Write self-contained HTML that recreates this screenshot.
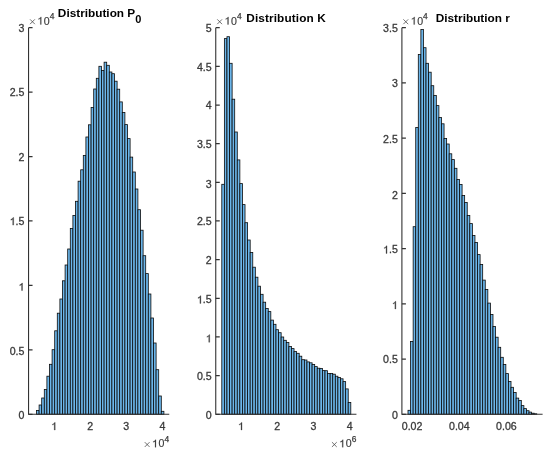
<!DOCTYPE html>
<html><head><meta charset="utf-8"><style>
html,body{margin:0;padding:0;background:#fff;}
svg{display:block;font-family:"Liberation Sans",sans-serif;filter:blur(0.35px);}
</style></head><body>
<svg width="550" height="458" viewBox="0 0 550 458">
<rect width="550" height="458" fill="#fff"/>
<g fill="#6cb6ea" stroke="#0a0a0a" stroke-width="0.8"><rect x="36.50" y="410.40" width="2.600" height="3.85"/><rect x="39.10" y="405.00" width="2.600" height="9.25"/><rect x="41.70" y="398.00" width="2.600" height="16.25"/><rect x="44.30" y="389.50" width="2.600" height="24.75"/><rect x="46.90" y="376.20" width="2.600" height="38.05"/><rect x="49.50" y="364.30" width="2.600" height="49.95"/><rect x="52.10" y="349.70" width="2.600" height="64.55"/><rect x="54.70" y="330.80" width="2.600" height="83.45"/><rect x="57.30" y="313.20" width="2.600" height="101.05"/><rect x="59.90" y="299.00" width="2.600" height="115.25"/><rect x="62.50" y="280.80" width="2.600" height="133.45"/><rect x="65.10" y="265.00" width="2.600" height="149.25"/><rect x="67.70" y="249.00" width="2.600" height="165.25"/><rect x="70.30" y="228.50" width="2.600" height="185.75"/><rect x="72.90" y="215.40" width="2.600" height="198.85"/><rect x="75.50" y="201.30" width="2.600" height="212.95"/><rect x="78.10" y="181.20" width="2.600" height="233.05"/><rect x="80.70" y="169.80" width="2.600" height="244.45"/><rect x="83.30" y="155.40" width="2.600" height="258.85"/><rect x="85.90" y="137.00" width="2.600" height="277.25"/><rect x="88.50" y="124.80" width="2.600" height="289.45"/><rect x="91.10" y="107.40" width="2.600" height="306.85"/><rect x="93.70" y="89.00" width="2.600" height="325.25"/><rect x="96.30" y="78.30" width="2.600" height="335.95"/><rect x="98.90" y="66.30" width="2.600" height="347.95"/><rect x="101.50" y="70.40" width="2.600" height="343.85"/><rect x="104.10" y="62.20" width="2.600" height="352.05"/><rect x="106.70" y="65.30" width="2.600" height="348.95"/><rect x="109.30" y="72.00" width="2.600" height="342.25"/><rect x="111.90" y="73.70" width="2.600" height="340.55"/><rect x="114.50" y="81.20" width="2.600" height="333.05"/><rect x="117.10" y="89.20" width="2.600" height="325.05"/><rect x="119.70" y="101.90" width="2.600" height="312.35"/><rect x="122.30" y="112.40" width="2.600" height="301.85"/><rect x="124.90" y="124.60" width="2.600" height="289.65"/><rect x="127.50" y="138.60" width="2.600" height="275.65"/><rect x="130.10" y="157.10" width="2.600" height="257.15"/><rect x="132.70" y="172.00" width="2.600" height="242.25"/><rect x="135.30" y="189.00" width="2.600" height="225.25"/><rect x="137.90" y="209.70" width="2.600" height="204.55"/><rect x="140.50" y="230.20" width="2.600" height="184.05"/><rect x="143.10" y="255.70" width="2.600" height="158.55"/><rect x="145.70" y="273.60" width="2.600" height="140.65"/><rect x="148.30" y="294.00" width="2.600" height="120.25"/><rect x="150.90" y="318.00" width="2.600" height="96.25"/><rect x="153.50" y="343.00" width="2.600" height="71.25"/><rect x="156.10" y="369.70" width="2.600" height="44.55"/><rect x="158.70" y="396.00" width="2.600" height="18.25"/><rect x="161.30" y="411.30" width="2.600" height="2.95"/></g>
<path d="M28.55,27.7 V414.25 H169.25" fill="none" stroke="#333333" stroke-width="1.1"/>
<path d="M28.55,414.25h4.0 M28.55,349.82h4.0 M28.55,285.40h4.0 M28.55,220.97h4.0 M28.55,156.55h4.0 M28.55,92.12h4.0 M28.55,27.70h4.0" stroke="#333" stroke-width="1.25"/>
<g font-size="10.6" fill="#3a3a3a" stroke="#3a3a3a" stroke-width="0.3"><text x="18.56" y="419.30">0</text></g><g font-size="10.6" fill="#3a3a3a" stroke="#3a3a3a" stroke-width="0.3"><text x="9.72" y="354.82">0.5</text></g><g font-size="10.6" fill="#3a3a3a" stroke="#3a3a3a" stroke-width="0.3"><path transform="translate(18.56,290.60) scale(10.6)" d="M0.372,0V-0.716H0.314C0.300,-0.670,0.262,-0.628,0.215,-0.595C0.175,-0.567,0.135,-0.550,0.110,-0.543V-0.468C0.160,-0.480,0.235,-0.512,0.283,-0.556V0Z" stroke-width="0.0283"/></g><g font-size="10.6" fill="#3a3a3a" stroke="#3a3a3a" stroke-width="0.3"><path transform="translate(9.72,225.12) scale(10.6)" d="M0.372,0V-0.716H0.314C0.300,-0.670,0.262,-0.628,0.215,-0.595C0.175,-0.567,0.135,-0.550,0.110,-0.543V-0.468C0.160,-0.480,0.235,-0.512,0.283,-0.556V0Z" stroke-width="0.0283"/><text x="15.61" y="225.12">.5</text></g><g font-size="10.6" fill="#3a3a3a" stroke="#3a3a3a" stroke-width="0.3"><text x="18.56" y="160.85">2</text></g><g font-size="10.6" fill="#3a3a3a" stroke="#3a3a3a" stroke-width="0.3"><text x="9.72" y="96.28">2.5</text></g><g font-size="10.6" fill="#3a3a3a" stroke="#3a3a3a" stroke-width="0.3"><text x="18.56" y="31.95">3</text></g><g font-size="10.6" fill="#3a3a3a" stroke="#3a3a3a" stroke-width="0.3"><path transform="translate(51.25,430.00) scale(10.6)" d="M0.372,0V-0.716H0.314C0.300,-0.670,0.262,-0.628,0.215,-0.595C0.175,-0.567,0.135,-0.550,0.110,-0.543V-0.468C0.160,-0.480,0.235,-0.512,0.283,-0.556V0Z" stroke-width="0.0283"/></g><g font-size="10.6" fill="#3a3a3a" stroke="#3a3a3a" stroke-width="0.3"><text x="87.25" y="430.00">2</text></g><g font-size="10.6" fill="#3a3a3a" stroke="#3a3a3a" stroke-width="0.3"><text x="123.25" y="430.00">3</text></g><g font-size="10.6" fill="#3a3a3a" stroke="#3a3a3a" stroke-width="0.3"><text x="159.45" y="430.00">4</text></g>
<path d="M30.05,19.35L34.85,24.15M34.85,19.35L30.05,24.15" stroke="#3a3a3a" stroke-width="0.9" fill="none" stroke-opacity="0.8"/><g font-size="10.6" fill="#3a3a3a" stroke="#3a3a3a" stroke-width="0.2"><path transform="translate(37.35,24.50) scale(10.6)" d="M0.372,0V-0.716H0.314C0.300,-0.670,0.262,-0.628,0.215,-0.595C0.175,-0.567,0.135,-0.550,0.110,-0.543V-0.468C0.160,-0.480,0.235,-0.512,0.283,-0.556V0Z" stroke-width="0.0189"/></g><g font-size="10.6" fill="#3a3a3a" stroke="#3a3a3a" stroke-width="0.15"><text x="43.85" y="24.50">0</text></g><text x="49.75" y="19.10" font-size="8.4" fill="#3a3a3a" stroke="#3a3a3a" stroke-width="0.25">4</text>
<path d="M144.75,442.15L149.55,446.95M149.55,442.15L144.75,446.95" stroke="#3a3a3a" stroke-width="0.9" fill="none" stroke-opacity="0.8"/><g font-size="10.6" fill="#3a3a3a" stroke="#3a3a3a" stroke-width="0.2"><path transform="translate(152.05,447.30) scale(10.6)" d="M0.372,0V-0.716H0.314C0.300,-0.670,0.262,-0.628,0.215,-0.595C0.175,-0.567,0.135,-0.550,0.110,-0.543V-0.468C0.160,-0.480,0.235,-0.512,0.283,-0.556V0Z" stroke-width="0.0189"/></g><g font-size="10.6" fill="#3a3a3a" stroke="#3a3a3a" stroke-width="0.15"><text x="158.55" y="447.30">0</text></g><text x="164.45" y="441.90" font-size="8.4" fill="#3a3a3a" stroke="#3a3a3a" stroke-width="0.25">4</text>
<text x="99.60" y="17.1" text-anchor="middle" font-size="11.8" font-weight="bold" fill="#000">Distribution P<tspan dy="5.8" font-size="11">0</tspan></text>
<g fill="#6cb6ea" stroke="#0a0a0a" stroke-width="0.8"><rect x="221.80" y="184.30" width="2.580" height="229.95"/><rect x="224.38" y="38.60" width="2.580" height="375.65"/><rect x="226.96" y="36.70" width="2.580" height="377.55"/><rect x="229.54" y="63.30" width="2.580" height="350.95"/><rect x="232.12" y="99.20" width="2.580" height="315.05"/><rect x="234.70" y="132.00" width="2.580" height="282.25"/><rect x="237.28" y="159.90" width="2.580" height="254.35"/><rect x="239.86" y="183.60" width="2.580" height="230.65"/><rect x="242.44" y="204.60" width="2.580" height="209.65"/><rect x="245.02" y="222.70" width="2.580" height="191.55"/><rect x="247.60" y="240.00" width="2.580" height="174.25"/><rect x="250.18" y="252.40" width="2.580" height="161.85"/><rect x="252.76" y="267.20" width="2.580" height="147.05"/><rect x="255.34" y="277.20" width="2.580" height="137.05"/><rect x="257.92" y="286.20" width="2.580" height="128.05"/><rect x="260.50" y="294.30" width="2.580" height="119.95"/><rect x="263.08" y="302.20" width="2.580" height="112.05"/><rect x="265.66" y="308.50" width="2.580" height="105.75"/><rect x="268.24" y="311.60" width="2.580" height="102.65"/><rect x="270.82" y="320.10" width="2.580" height="94.15"/><rect x="273.40" y="324.30" width="2.580" height="89.95"/><rect x="275.98" y="329.70" width="2.580" height="84.55"/><rect x="278.56" y="332.70" width="2.580" height="81.55"/><rect x="281.14" y="337.00" width="2.580" height="77.25"/><rect x="283.72" y="340.30" width="2.580" height="73.95"/><rect x="286.30" y="342.50" width="2.580" height="71.75"/><rect x="288.88" y="346.40" width="2.580" height="67.85"/><rect x="291.46" y="348.60" width="2.580" height="65.65"/><rect x="294.04" y="351.60" width="2.580" height="62.65"/><rect x="296.62" y="353.30" width="2.580" height="60.95"/><rect x="299.20" y="356.20" width="2.580" height="58.05"/><rect x="301.78" y="359.70" width="2.580" height="54.55"/><rect x="304.36" y="360.00" width="2.580" height="54.25"/><rect x="306.94" y="361.90" width="2.580" height="52.35"/><rect x="309.52" y="362.80" width="2.580" height="51.45"/><rect x="312.10" y="364.40" width="2.580" height="49.85"/><rect x="314.68" y="366.60" width="2.580" height="47.65"/><rect x="317.26" y="368.20" width="2.580" height="46.05"/><rect x="319.84" y="368.40" width="2.580" height="45.85"/><rect x="322.42" y="370.60" width="2.580" height="43.65"/><rect x="325.00" y="370.70" width="2.580" height="43.55"/><rect x="327.58" y="373.40" width="2.580" height="40.85"/><rect x="330.16" y="373.40" width="2.580" height="40.85"/><rect x="332.74" y="374.20" width="2.580" height="40.05"/><rect x="335.32" y="376.20" width="2.580" height="38.05"/><rect x="337.90" y="377.50" width="2.580" height="36.75"/><rect x="340.48" y="378.80" width="2.580" height="35.45"/><rect x="343.06" y="381.60" width="2.580" height="32.65"/><rect x="345.64" y="388.90" width="2.580" height="25.35"/><rect x="348.22" y="402.50" width="2.580" height="11.75"/></g>
<path d="M215.75,27.7 V414.25 H356.45" fill="none" stroke="#333333" stroke-width="1.1"/>
<path d="M215.75,414.25h4.0 M215.75,375.60h4.0 M215.75,336.94h4.0 M215.75,298.28h4.0 M215.75,259.63h4.0 M215.75,220.97h4.0 M215.75,182.32h4.0 M215.75,143.67h4.0 M215.75,105.01h4.0 M215.75,66.35h4.0 M215.75,27.70h4.0" stroke="#333" stroke-width="1.25"/>
<g font-size="10.6" fill="#3a3a3a" stroke="#3a3a3a" stroke-width="0.3"><text x="205.76" y="419.40">0</text></g><g font-size="10.6" fill="#3a3a3a" stroke="#3a3a3a" stroke-width="0.3"><text x="196.92" y="380.30">0.5</text></g><g font-size="10.6" fill="#3a3a3a" stroke="#3a3a3a" stroke-width="0.3"><path transform="translate(205.76,342.24) scale(10.6)" d="M0.372,0V-0.716H0.314C0.300,-0.670,0.262,-0.628,0.215,-0.595C0.175,-0.567,0.135,-0.550,0.110,-0.543V-0.468C0.160,-0.480,0.235,-0.512,0.283,-0.556V0Z" stroke-width="0.0283"/></g><g font-size="10.6" fill="#3a3a3a" stroke="#3a3a3a" stroke-width="0.3"><path transform="translate(196.92,303.38) scale(10.6)" d="M0.372,0V-0.716H0.314C0.300,-0.670,0.262,-0.628,0.215,-0.595C0.175,-0.567,0.135,-0.550,0.110,-0.543V-0.468C0.160,-0.480,0.235,-0.512,0.283,-0.556V0Z" stroke-width="0.0283"/><text x="202.81" y="303.38">.5</text></g><g font-size="10.6" fill="#3a3a3a" stroke="#3a3a3a" stroke-width="0.3"><text x="205.76" y="264.13">2</text></g><g font-size="10.6" fill="#3a3a3a" stroke="#3a3a3a" stroke-width="0.3"><text x="196.92" y="225.28">2.5</text></g><g font-size="10.6" fill="#3a3a3a" stroke="#3a3a3a" stroke-width="0.3"><text x="205.76" y="187.52">3</text></g><g font-size="10.6" fill="#3a3a3a" stroke="#3a3a3a" stroke-width="0.3"><text x="196.92" y="148.07">3.5</text></g><g font-size="10.6" fill="#3a3a3a" stroke="#3a3a3a" stroke-width="0.3"><text x="205.76" y="109.26">4</text></g><g font-size="10.6" fill="#3a3a3a" stroke="#3a3a3a" stroke-width="0.3"><text x="196.92" y="71.45">4.5</text></g><g font-size="10.6" fill="#3a3a3a" stroke="#3a3a3a" stroke-width="0.3"><text x="205.76" y="31.80">5</text></g><g font-size="10.6" fill="#3a3a3a" stroke="#3a3a3a" stroke-width="0.3"><path transform="translate(238.05,430.00) scale(10.6)" d="M0.372,0V-0.716H0.314C0.300,-0.670,0.262,-0.628,0.215,-0.595C0.175,-0.567,0.135,-0.550,0.110,-0.543V-0.468C0.160,-0.480,0.235,-0.512,0.283,-0.556V0Z" stroke-width="0.0283"/></g><g font-size="10.6" fill="#3a3a3a" stroke="#3a3a3a" stroke-width="0.3"><text x="274.25" y="430.00">2</text></g><g font-size="10.6" fill="#3a3a3a" stroke="#3a3a3a" stroke-width="0.3"><text x="310.45" y="430.00">3</text></g><g font-size="10.6" fill="#3a3a3a" stroke="#3a3a3a" stroke-width="0.3"><text x="346.65" y="430.00">4</text></g>
<path d="M217.25,19.35L222.05,24.15M222.05,19.35L217.25,24.15" stroke="#3a3a3a" stroke-width="0.9" fill="none" stroke-opacity="0.8"/><g font-size="10.6" fill="#3a3a3a" stroke="#3a3a3a" stroke-width="0.2"><path transform="translate(224.55,24.50) scale(10.6)" d="M0.372,0V-0.716H0.314C0.300,-0.670,0.262,-0.628,0.215,-0.595C0.175,-0.567,0.135,-0.550,0.110,-0.543V-0.468C0.160,-0.480,0.235,-0.512,0.283,-0.556V0Z" stroke-width="0.0189"/></g><g font-size="10.6" fill="#3a3a3a" stroke="#3a3a3a" stroke-width="0.15"><text x="231.05" y="24.50">0</text></g><text x="236.95" y="19.10" font-size="8.4" fill="#3a3a3a" stroke="#3a3a3a" stroke-width="0.25">4</text>
<path d="M331.95,442.15L336.75,446.95M336.75,442.15L331.95,446.95" stroke="#3a3a3a" stroke-width="0.9" fill="none" stroke-opacity="0.8"/><g font-size="10.6" fill="#3a3a3a" stroke="#3a3a3a" stroke-width="0.2"><path transform="translate(339.25,447.30) scale(10.6)" d="M0.372,0V-0.716H0.314C0.300,-0.670,0.262,-0.628,0.215,-0.595C0.175,-0.567,0.135,-0.550,0.110,-0.543V-0.468C0.160,-0.480,0.235,-0.512,0.283,-0.556V0Z" stroke-width="0.0189"/></g><g font-size="10.6" fill="#3a3a3a" stroke="#3a3a3a" stroke-width="0.15"><text x="345.75" y="447.30">0</text></g><text x="351.65" y="441.90" font-size="8.4" fill="#3a3a3a" stroke="#3a3a3a" stroke-width="0.25">6</text>
<text x="286.10" y="22.4" text-anchor="middle" font-size="11.8" font-weight="bold" fill="#000" letter-spacing="0.12">Distribution K</text>
<g fill="#6cb6ea" stroke="#0a0a0a" stroke-width="0.8"><rect x="408.00" y="410.30" width="2.575" height="3.95"/><rect x="410.57" y="341.40" width="2.575" height="72.85"/><rect x="413.15" y="226.70" width="2.575" height="187.55"/><rect x="415.73" y="127.40" width="2.575" height="286.85"/><rect x="418.30" y="54.50" width="2.575" height="359.75"/><rect x="420.88" y="29.40" width="2.575" height="384.85"/><rect x="423.45" y="47.70" width="2.575" height="366.55"/><rect x="426.02" y="63.30" width="2.575" height="350.95"/><rect x="428.60" y="72.20" width="2.575" height="342.05"/><rect x="431.18" y="85.70" width="2.575" height="328.55"/><rect x="433.75" y="95.50" width="2.575" height="318.75"/><rect x="436.32" y="105.60" width="2.575" height="308.65"/><rect x="438.90" y="117.50" width="2.575" height="296.75"/><rect x="441.48" y="123.80" width="2.575" height="290.45"/><rect x="444.05" y="138.50" width="2.575" height="275.75"/><rect x="446.62" y="144.00" width="2.575" height="270.25"/><rect x="449.20" y="153.80" width="2.575" height="260.45"/><rect x="451.77" y="159.60" width="2.575" height="254.65"/><rect x="454.35" y="168.30" width="2.575" height="245.95"/><rect x="456.93" y="179.50" width="2.575" height="234.75"/><rect x="459.50" y="184.40" width="2.575" height="229.85"/><rect x="462.07" y="195.50" width="2.575" height="218.75"/><rect x="464.65" y="202.50" width="2.575" height="211.75"/><rect x="467.23" y="215.50" width="2.575" height="198.75"/><rect x="469.80" y="223.60" width="2.575" height="190.65"/><rect x="472.38" y="235.50" width="2.575" height="178.75"/><rect x="474.95" y="242.50" width="2.575" height="171.75"/><rect x="477.52" y="254.60" width="2.575" height="159.65"/><rect x="480.10" y="264.40" width="2.575" height="149.85"/><rect x="482.68" y="280.10" width="2.575" height="134.15"/><rect x="485.25" y="289.40" width="2.575" height="124.85"/><rect x="487.82" y="303.10" width="2.575" height="111.15"/><rect x="490.40" y="314.50" width="2.575" height="99.75"/><rect x="492.98" y="326.50" width="2.575" height="87.75"/><rect x="495.55" y="337.20" width="2.575" height="77.05"/><rect x="498.12" y="347.30" width="2.575" height="66.95"/><rect x="500.70" y="357.30" width="2.575" height="56.95"/><rect x="503.27" y="364.40" width="2.575" height="49.85"/><rect x="505.85" y="373.60" width="2.575" height="40.65"/><rect x="508.43" y="381.50" width="2.575" height="32.75"/><rect x="511.00" y="387.30" width="2.575" height="26.95"/><rect x="513.58" y="392.50" width="2.575" height="21.75"/><rect x="516.15" y="398.10" width="2.575" height="16.15"/><rect x="518.73" y="400.40" width="2.575" height="13.85"/><rect x="521.30" y="405.60" width="2.575" height="8.65"/><rect x="523.88" y="408.60" width="2.575" height="5.65"/><rect x="526.45" y="410.70" width="2.575" height="3.55"/><rect x="529.02" y="412.10" width="2.575" height="2.15"/><rect x="531.60" y="413.20" width="2.575" height="1.05"/><rect x="534.17" y="413.80" width="2.575" height="0.45"/></g>
<path d="M401.9,27.7 V414.25 H542.5999999999999" fill="none" stroke="#333333" stroke-width="1.1"/>
<path d="M401.9,414.25h4.0 M401.9,359.03h4.0 M401.9,303.81h4.0 M401.9,248.59h4.0 M401.9,193.36h4.0 M401.9,138.14h4.0 M401.9,82.92h4.0 M401.9,27.70h4.0" stroke="#333" stroke-width="1.25"/>
<g font-size="10.6" fill="#3a3a3a" stroke="#3a3a3a" stroke-width="0.3"><text x="391.91" y="419.30">0</text></g><g font-size="10.6" fill="#3a3a3a" stroke="#3a3a3a" stroke-width="0.3"><text x="383.07" y="363.38">0.5</text></g><g font-size="10.6" fill="#3a3a3a" stroke="#3a3a3a" stroke-width="0.3"><path transform="translate(391.91,308.96) scale(10.6)" d="M0.372,0V-0.716H0.314C0.300,-0.670,0.262,-0.628,0.215,-0.595C0.175,-0.567,0.135,-0.550,0.110,-0.543V-0.468C0.160,-0.480,0.235,-0.512,0.283,-0.556V0Z" stroke-width="0.0283"/></g><g font-size="10.6" fill="#3a3a3a" stroke="#3a3a3a" stroke-width="0.3"><path transform="translate(383.07,253.44) scale(10.6)" d="M0.372,0V-0.716H0.314C0.300,-0.670,0.262,-0.628,0.215,-0.595C0.175,-0.567,0.135,-0.550,0.110,-0.543V-0.468C0.160,-0.480,0.235,-0.512,0.283,-0.556V0Z" stroke-width="0.0283"/><text x="388.96" y="253.44">.5</text></g><g font-size="10.6" fill="#3a3a3a" stroke="#3a3a3a" stroke-width="0.3"><text x="391.91" y="198.66">2</text></g><g font-size="10.6" fill="#3a3a3a" stroke="#3a3a3a" stroke-width="0.3"><text x="383.07" y="142.74">2.5</text></g><g font-size="10.6" fill="#3a3a3a" stroke="#3a3a3a" stroke-width="0.3"><text x="391.91" y="87.02">3</text></g><g font-size="10.6" fill="#3a3a3a" stroke="#3a3a3a" stroke-width="0.3"><text x="383.07" y="31.90">3.5</text></g><g font-size="10.6" fill="#3a3a3a" stroke="#3a3a3a" stroke-width="0.3"><text x="401.79" y="430.00">0.02</text></g><g font-size="10.6" fill="#3a3a3a" stroke="#3a3a3a" stroke-width="0.3"><text x="448.99" y="430.00">0.04</text></g><g font-size="10.6" fill="#3a3a3a" stroke="#3a3a3a" stroke-width="0.3"><text x="496.09" y="430.00">0.06</text></g>
<path d="M403.40,19.35L408.20,24.15M408.20,19.35L403.40,24.15" stroke="#3a3a3a" stroke-width="0.9" fill="none" stroke-opacity="0.8"/><g font-size="10.6" fill="#3a3a3a" stroke="#3a3a3a" stroke-width="0.2"><path transform="translate(410.70,24.50) scale(10.6)" d="M0.372,0V-0.716H0.314C0.300,-0.670,0.262,-0.628,0.215,-0.595C0.175,-0.567,0.135,-0.550,0.110,-0.543V-0.468C0.160,-0.480,0.235,-0.512,0.283,-0.556V0Z" stroke-width="0.0189"/></g><g font-size="10.6" fill="#3a3a3a" stroke="#3a3a3a" stroke-width="0.15"><text x="417.20" y="24.50">0</text></g><text x="423.10" y="19.10" font-size="8.4" fill="#3a3a3a" stroke="#3a3a3a" stroke-width="0.25">4</text>
<text x="472.80" y="22.4" text-anchor="middle" font-size="11.8" font-weight="bold" fill="#000">Distribution r</text>
</svg>
</body></html>
